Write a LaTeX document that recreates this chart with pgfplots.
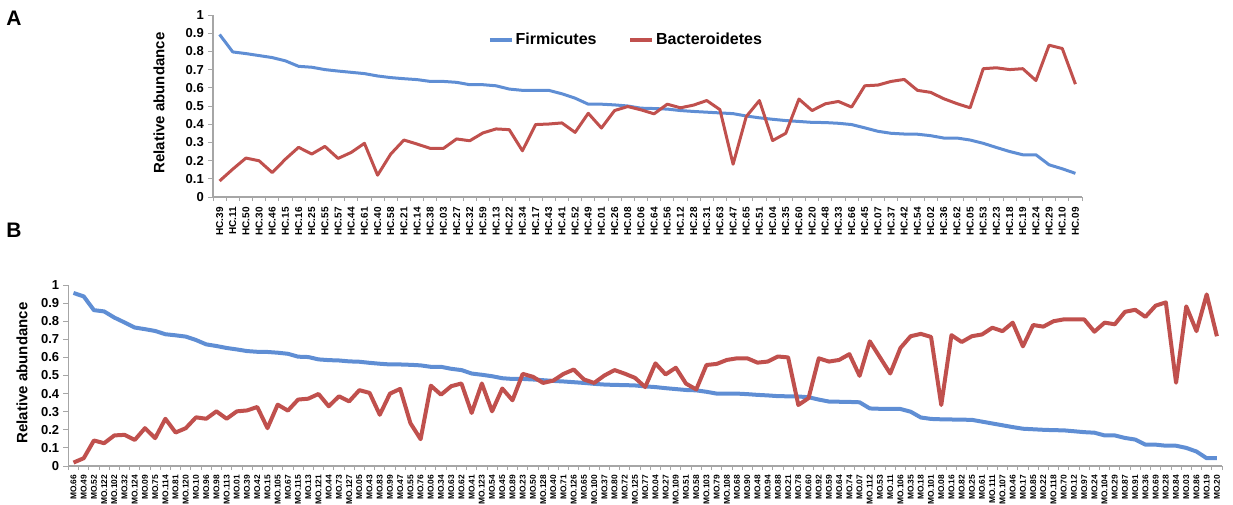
\documentclass[border=0pt]{standalone}
\usepackage{fontspec}
\setmainfont{Liberation Sans}
\usepackage{pgfplots}
\usepackage{pgfplotstable}
\pgfplotsset{compat=1.18}

\definecolor{firm}{RGB}{95,142,212}
\definecolor{bact}{RGB}{192,80,77}
\definecolor{axgray}{RGB}{166,166,166}

% panel A: healthy controls (idx, Firmicutes, Bacteroidetes)
\pgfplotstableread{
idx firm bact
0 0.893 0.088
1 0.797 0.153
2 0.788 0.214
3 0.777 0.199
4 0.766 0.134
5 0.748 0.208
6 0.718 0.273
7 0.713 0.236
8 0.700 0.278
9 0.692 0.212
10 0.685 0.245
11 0.678 0.295
12 0.665 0.120
13 0.656 0.236
14 0.650 0.313
15 0.645 0.291
16 0.635 0.267
17 0.635 0.267
18 0.630 0.319
19 0.617 0.309
20 0.617 0.352
21 0.611 0.374
22 0.593 0.370
23 0.586 0.254
24 0.586 0.398
25 0.586 0.401
26 0.567 0.407
27 0.543 0.355
28 0.510 0.460
29 0.510 0.379
30 0.506 0.475
31 0.500 0.497
32 0.488 0.479
33 0.486 0.457
34 0.483 0.510
35 0.475 0.490
36 0.470 0.505
37 0.466 0.530
38 0.462 0.480
39 0.458 0.180
40 0.445 0.442
41 0.435 0.530
42 0.427 0.310
43 0.420 0.350
44 0.415 0.538
45 0.410 0.475
46 0.409 0.512
47 0.405 0.525
48 0.398 0.494
49 0.380 0.611
50 0.361 0.615
51 0.350 0.635
52 0.346 0.646
53 0.345 0.586
54 0.337 0.575
55 0.324 0.540
56 0.324 0.513
57 0.313 0.490
58 0.295 0.705
59 0.272 0.710
60 0.250 0.700
61 0.232 0.705
62 0.232 0.640
63 0.177 0.834
64 0.155 0.816
65 0.130 0.620
}\dataA

% panel B: MO samples
\pgfplotstableread{
idx firm bact
0 0.956 0.019
1 0.937 0.043
2 0.861 0.141
3 0.854 0.126
4 0.820 0.169
5 0.793 0.172
6 0.765 0.144
7 0.756 0.209
8 0.746 0.154
9 0.728 0.261
10 0.722 0.185
11 0.715 0.209
12 0.696 0.269
13 0.672 0.261
14 0.663 0.302
15 0.652 0.261
16 0.644 0.302
17 0.635 0.307
18 0.631 0.326
19 0.630 0.209
20 0.626 0.339
21 0.620 0.306
22 0.604 0.367
23 0.602 0.372
24 0.589 0.398
25 0.585 0.330
26 0.583 0.385
27 0.578 0.357
28 0.576 0.419
29 0.570 0.404
30 0.565 0.283
31 0.561 0.400
32 0.561 0.426
33 0.559 0.237
34 0.556 0.148
35 0.548 0.444
36 0.548 0.394
37 0.537 0.441
38 0.530 0.456
39 0.511 0.293
40 0.504 0.456
41 0.496 0.302
42 0.485 0.428
43 0.481 0.363
44 0.481 0.509
45 0.478 0.493
46 0.474 0.459
47 0.470 0.472
48 0.467 0.509
49 0.463 0.533
50 0.459 0.478
51 0.454 0.459
52 0.450 0.500
53 0.448 0.530
54 0.447 0.510
55 0.445 0.487
56 0.440 0.436
57 0.436 0.567
58 0.430 0.506
59 0.425 0.543
60 0.420 0.455
61 0.418 0.423
62 0.410 0.558
63 0.400 0.564
64 0.400 0.586
65 0.400 0.595
66 0.397 0.595
67 0.393 0.571
68 0.390 0.577
69 0.386 0.605
70 0.385 0.600
71 0.384 0.337
72 0.380 0.375
73 0.367 0.595
74 0.356 0.577
75 0.355 0.586
76 0.354 0.618
77 0.352 0.498
78 0.318 0.689
79 0.316 0.600
80 0.316 0.511
81 0.315 0.652
82 0.300 0.717
83 0.268 0.730
84 0.260 0.713
85 0.258 0.337
86 0.257 0.723
87 0.256 0.685
88 0.255 0.717
89 0.245 0.727
90 0.235 0.764
91 0.225 0.745
92 0.215 0.792
93 0.206 0.661
94 0.203 0.779
95 0.200 0.770
96 0.198 0.800
97 0.197 0.810
98 0.192 0.810
99 0.187 0.810
100 0.184 0.742
101 0.169 0.792
102 0.169 0.783
103 0.155 0.852
104 0.146 0.863
105 0.118 0.824
106 0.118 0.886
107 0.112 0.904
108 0.112 0.460
109 0.100 0.882
110 0.080 0.745
111 0.043 0.948
112 0.043 0.717
}\dataB

\pgfplotsset{
  relab/.style={
    scale only axis,
    axis x line=bottom, axis y line=left,
    axis line style={-, axgray, line width=1.3pt},
    ymin=0, ymax=1,
    ytick={0,0.1,0.2,0.3,0.4,0.5,0.6,0.7,0.8,0.9,1},
    tick align=outside,
    major tick length=5pt,
    minor tick length=4pt,
    tick style={axgray, line width=0.9pt},
    every major x tick/.append style={draw=none},
    /pgf/number format/assume math mode=true,
    yticklabel style={font=\fontsize{13}{13}\selectfont\bfseries, inner sep=0pt, xshift=-4pt},
    clip=false,
  },
}

\begin{document}
\begin{tikzpicture}
\path[use as bounding box] (0,0) rectangle (1233pt,504pt);

\node[font=\fontsize{21}{21}\selectfont\bfseries] at (14pt,486pt) {A};
\node[font=\fontsize{21}{21}\selectfont\bfseries] at (14pt,274pt) {B};
\node[rotate=90, font=\fontsize{15}{15}\selectfont\bfseries] at (159pt,401pt) {Relative abundance};
\node[rotate=90, font=\fontsize{15}{15}\selectfont\bfseries] at (22pt,131pt) {Relative abundance};

\begin{axis}[relab,
  at={(213pt,307pt)}, anchor=south west,
  width=869pt, height=182pt,
  xmin=-0.5, xmax=65.5,
  xtick={0,...,65},
  minor xtick={-0.5,0.5,...,65.5},
  xticklabels={HC.39,HC.11,HC.50,HC.30,HC.46,HC.15,HC.16,HC.25,HC.55,HC.57,HC.44,HC.61,HC.40,HC.58,HC.21,HC.14,HC.38,HC.03,HC.27,HC.32,HC.59,HC.13,HC.22,HC.34,HC.17,HC.43,HC.41,HC.52,HC.49,HC.01,HC.26,HC.08,HC.06,HC.64,HC.56,HC.12,HC.28,HC.31,HC.63,HC.47,HC.65,HC.51,HC.04,HC.35,HC.60,HC.20,HC.48,HC.33,HC.66,HC.45,HC.07,HC.37,HC.42,HC.54,HC.02,HC.36,HC.62,HC.05,HC.53,HC.23,HC.18,HC.19,HC.24,HC.29,HC.10,HC.09},
  xticklabel style={yshift=-5pt, rotate=90, anchor=east, inner sep=0pt, font=\fontsize{10}{10}\selectfont\bfseries},
  legend columns=2,
  legend style={at={(axis description cs:0.313,0.863)}, anchor=west, draw=none, fill=none,
    font=\fontsize{16}{16}\selectfont\bfseries,
    /tikz/every even column/.append style={column sep=30pt}},
  legend image code/.code={\draw[#1, line width=3.5pt] (0pt,0pt) -- (22pt,0pt);},
]
\addplot[firm, line width=3pt, line join=round] table[x=idx, y=firm] {\dataA};
\addplot[bact, line width=3pt, line join=round] table[x=idx, y=bact] {\dataA};
\legend{Firmicutes, Bacteroidetes}
\end{axis}

\begin{axis}[relab,
  at={(68.4pt,38pt)}, anchor=south west,
  width=1153.6pt, height=181pt,
  xmin=-0.5, xmax=112.5,
  xtick={0,...,112},
  minor xtick={-0.5,0.5,...,112.5},
  xticklabels={MO.66,MO.49,MO.52,MO.122,MO.102,MO.32,MO.124,MO.09,MO.75,MO.114,MO.81,MO.120,MO.10,MO.96,MO.98,MO.113,MO.01,MO.39,MO.42,MO.15,MO.105,MO.67,MO.115,MO.13,MO.121,MO.44,MO.73,MO.127,MO.05,MO.43,MO.83,MO.99,MO.47,MO.55,MO.76,MO.06,MO.34,MO.63,MO.62,MO.41,MO.123,MO.54,MO.45,MO.89,MO.23,MO.50,MO.128,MO.40,MO.71,MO.126,MO.65,MO.100,MO.37,MO.80,MO.72,MO.125,MO.77,MO.04,MO.27,MO.109,MO.51,MO.58,MO.103,MO.79,MO.108,MO.68,MO.90,MO.48,MO.94,MO.88,MO.21,MO.78,MO.60,MO.92,MO.59,MO.64,MO.74,MO.07,MO.112,MO.53,MO.11,MO.106,MO.35,MO.18,MO.101,MO.08,MO.16,MO.82,MO.25,MO.61,MO.111,MO.107,MO.46,MO.17,MO.85,MO.22,MO.118,MO.70,MO.12,MO.97,MO.24,MO.104,MO.29,MO.87,MO.91,MO.36,MO.69,MO.28,MO.84,MO.03,MO.86,MO.19,MO.20},
  xticklabel style={yshift=-3.5pt, rotate=90, anchor=east, inner sep=0pt, font=\fontsize{8.4}{8.4}\selectfont\bfseries},
]
\addplot[firm, line width=4pt, line join=round] table[x=idx, y=firm] {\dataB};
\addplot[bact, line width=4pt, line join=round] table[x=idx, y=bact] {\dataB};
\end{axis}
\end{tikzpicture}
\end{document}
